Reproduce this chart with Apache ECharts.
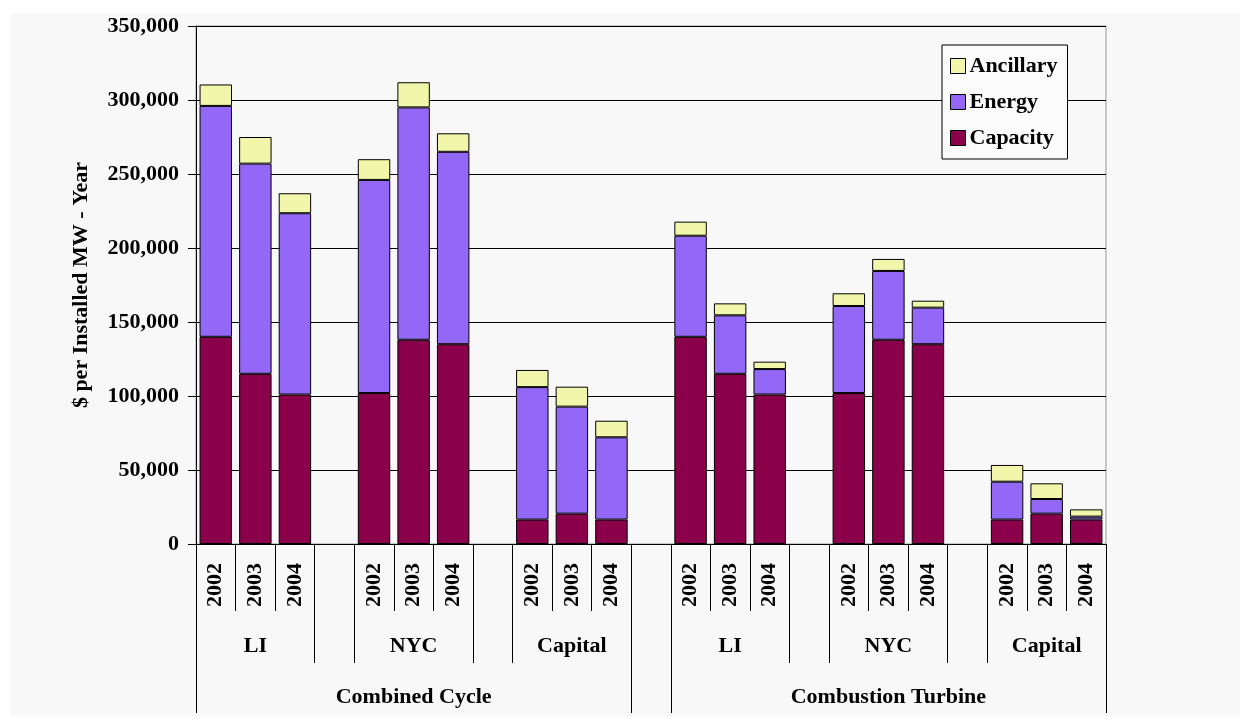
<!DOCTYPE html>
<html>
<head>
<meta charset="utf-8">
<script src="https://cdn.jsdelivr.net/npm/echarts@6/dist/echarts.min.js"></script>
<style>
  html, body { margin: 0; padding: 0; background: #fff; }
  #wrap { position: relative; width: 1240px; height: 721px; }
  #bg { position: absolute; left: 11px; top: 13px; right: 0; bottom: 5px; background: #f8f8f8; }
  #chart { position: absolute; left: 0; top: 0; width: 1240px; height: 721px; }
</style>
</head>
<body>
<div id="wrap">
  <div id="bg"></div>
  <div id="chart"></div>
</div>
<script>
  // chart values ($ per installed MW-year)
  var technologies = ['Combined Cycle', 'Combustion Turbine'];
  var regions = ['LI', 'NYC', 'Capital'];
  var years = ['2002', '2003', '2004'];

  // order: CC LI, CC NYC, CC Capital, CT LI, CT NYC, CT Capital (3 years each)
  var capacity = [140000, 115000, 101000, 102000, 138000, 135000, 16500, 20500, 16500,
                  140000, 115000, 101000, 102000, 138000, 135000, 16500, 20500, 16500];
  var energy = [156000, 142000, 122500, 144000, 157000, 130000, 89500, 72300, 55600,
                68300, 39500, 17200, 58800, 46500, 24700, 25600, 9900, 2000];
  var ancillary = [14500, 18000, 13500, 14000, 17000, 12500, 11600, 13500, 11200,
                   9500, 8100, 5000, 8600, 8100, 4700, 11300, 10600, 4900];

  // build slots: 3 years per region, one empty slot between regions
  var yearSlots = [], regionSlots = [], techSlots = [];
  var regionBounds = [], techBounds = [];
  var slotOf = [];
  technologies.forEach(function (tech, t) {
    if (t > 0) {
      yearSlots.push(''); regionSlots.push(''); techSlots.push('');
    }
    var techStart = yearSlots.length;
    techBounds.push(techStart);
    regions.forEach(function (reg, r) {
      if (r > 0) {
        yearSlots.push(''); regionSlots.push(''); techSlots.push('');
      }
      regionBounds.push(yearSlots.length);
      years.forEach(function (y, k) {
        slotOf.push(yearSlots.length);
        yearSlots.push(y);
        regionSlots.push(k === 1 ? reg : '');
        techSlots.push('');
      });
      regionBounds.push(yearSlots.length);
    });
    techBounds.push(yearSlots.length);
    techSlots[Math.floor((techStart + yearSlots.length - 1) / 2)] = tech;
  });

  function toSlots(values) {
    var arr = yearSlots.map(function () { return '-'; });
    values.forEach(function (v, i) { arr[slotOf[i]] = v; });
    return arr;
  }

  var font = '"Liberation Serif", "Times New Roman", serif';
  var chart = echarts.init(document.getElementById('chart'));

  function bandAxis(data, offset, tickLen, margin, tickFn, labelFn) {
    return {
      type: 'category',
      data: data,
      position: 'bottom',
      offset: offset,
      axisLine: { show: offset === 0, lineStyle: { color: '#000', width: 1 } },
      axisTick: {
        show: true,
        length: tickLen,
        interval: tickFn,
        lineStyle: { color: '#000', width: 1 }
      },
      axisLabel: {
        interval: labelFn,
        margin: margin,
        fontFamily: font,
        fontWeight: 'bold',
        fontSize: 22,
        color: '#000'
      },
      splitLine: { show: false }
    };
  }

  var yearAxis = bandAxis(yearSlots, 0, 67, 19, 0, 0);
  yearAxis.axisLabel.rotate = 90;

  var regionAxis = bandAxis(regionSlots, 67, 52, 24,
    function (i) { return regionBounds.indexOf(i) >= 0; },
    function (i, v) { return v !== ''; });

  var techAxis = bandAxis(techSlots, 119, 50, 23,
    function (i) { return techBounds.indexOf(i) >= 0; },
    function (i, v) { return v !== ''; });

  function barSeries(name, values, color) {
    return {
      name: name,
      type: 'bar',
      stack: 'total',
      xAxisIndex: 0,
      barCategoryGap: '18%',
      data: toSlots(values),
      itemStyle: { color: color, borderColor: '#000', borderWidth: 1 },
      emphasis: { disabled: true }
    };
  }

  chart.setOption({
    backgroundColor: 'transparent',
    animation: false,
    grid: {
      left: 196,
      right: 134,
      top: 26,
      bottom: 177,
      show: true,
      borderColor: '#999',
      borderWidth: 1,
      backgroundColor: 'transparent'
    },
    legend: {
      orient: 'vertical',
      left: 942,
      top: 45,
      data: ['Ancillary', 'Energy', 'Capacity'],
      itemWidth: 15,
      itemHeight: 15,
      itemGap: 14,
      padding: [10, 10, 10, 8],
      backgroundColor: '#fbfbfb',
      borderColor: '#000',
      borderWidth: 1,
      borderRadius: 0,
      icon: 'rect',
      itemStyle: { borderColor: '#000', borderWidth: 1 },
      textStyle: { fontFamily: font, fontWeight: 'bold', fontSize: 22, color: '#000', padding: [0, 0, 0, -1] }
    },
    xAxis: [yearAxis, regionAxis, techAxis],
    yAxis: {
      type: 'value',
      min: 0,
      max: 350000,
      interval: 50000,
      name: '$ per Installed MW - Year',
      nameLocation: 'middle',
      nameGap: 104,
      nameTextStyle: { fontFamily: font, fontWeight: 'bold', fontSize: 22, color: '#000' },
      axisLine: { show: true, lineStyle: { color: '#000', width: 1 } },
      axisTick: { show: true, length: 8, lineStyle: { color: '#000' } },
      axisLabel: {
        margin: 17,
        fontFamily: font,
        fontWeight: 'bold',
        fontSize: 22,
        color: '#000',
        formatter: function (v) { return v.toLocaleString('en-US'); }
      },
      splitLine: { show: true, lineStyle: { color: '#000', width: 1 } }
    },
    series: [
      barSeries('Capacity', capacity, '#8a004a'),
      barSeries('Energy', energy, '#9468f6'),
      barSeries('Ancillary', ancillary, '#f1f6aa')
    ]
  });
</script>
</body>
</html>
